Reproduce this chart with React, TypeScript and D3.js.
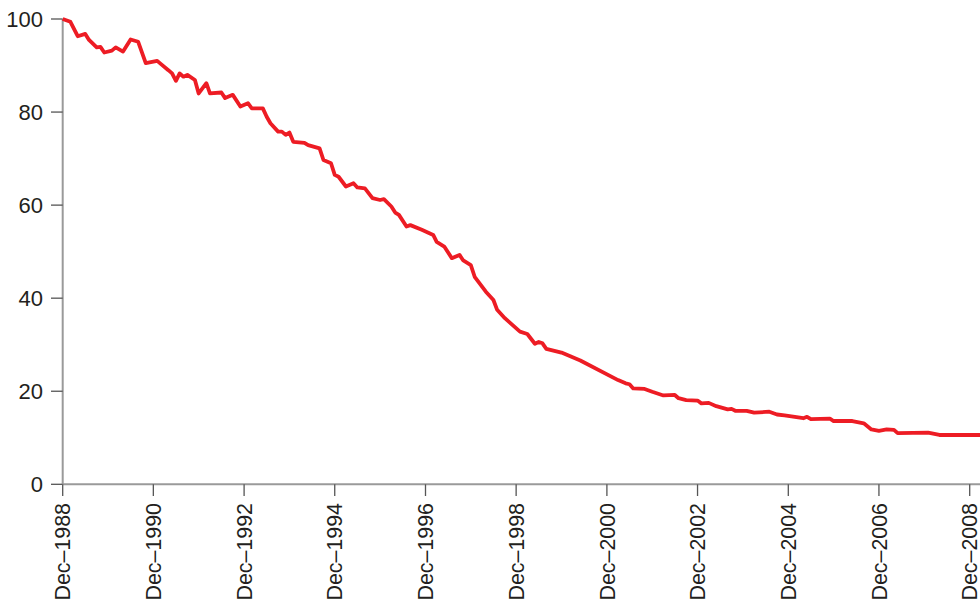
import React from "react";
import * as d3 from "d3";

const dates: string[] = [
  "1988-12","1989-02","1989-04","1989-06","1989-07","1989-09","1989-10","1989-11",
  "1990-01","1990-02","1990-04","1990-06","1990-08","1990-10",
  "1991-01","1991-02","1991-04","1991-05","1991-06","1991-07","1991-08","1991-09","1991-11","1991-12",
  "1992-02","1992-03","1992-06","1992-07","1992-09","1992-11",
  "1993-01","1993-02","1993-05","1993-06","1993-07","1993-09","1993-10","1993-11","1993-12",
  "1994-01","1994-04","1994-05","1994-08","1994-09","1994-11","1994-12",
  "1995-01","1995-03","1995-05","1995-06","1995-08","1995-10","1995-12",
  "1996-01","1996-03","1996-04","1996-05","1996-07","1996-08","1996-11",
  "1997-02","1997-03","1997-05","1997-07","1997-09","1997-10","1997-12",
  "1998-01","1998-04","1998-06","1998-07","1998-09",
  "1999-01","1999-03","1999-05","1999-06","1999-07","1999-08","1999-12",
  "2000-05",
  "2001-03","2001-05","2001-06","2001-07","2001-10","2001-12",
  "2002-03","2002-06","2002-07","2002-09","2002-12",
  "2003-01","2003-03","2003-05","2003-08","2003-09","2003-10",
  "2004-01","2004-03","2004-07","2004-09","2004-11",
  "2005-04","2005-05","2005-06","2005-11","2005-12",
  "2006-05","2006-08","2006-10","2006-12",
  "2007-02","2007-04","2007-05",
  "2008-01","2008-04",
  "2009-03",
];

const values: number[] = [
  100, 99.4, 96.3, 96.8, 95.5, 93.9, 94.0, 92.8,
  93.2, 93.9, 93.0, 95.6, 95.1, 90.5,
  91.0, 90.3, 89.0, 88.3, 86.7, 88.3, 87.6, 88.0, 86.9, 84.0,
  86.2, 84.0, 84.2, 83.0, 83.7, 81.2,
  81.9, 80.8, 80.8, 79.0, 77.6, 75.8, 75.8, 75.1, 75.6,
  73.6, 73.4, 72.9, 72.2, 69.7, 69.0, 66.5,
  66.1, 64.0, 64.7, 63.8, 63.6, 61.5, 61.1,
  61.3, 59.7, 58.4, 57.9, 55.4, 55.7, 54.7,
  53.6, 52.1, 51.1, 48.6, 49.3, 48.1, 47.1,
  44.6, 41.4, 39.6, 37.5, 35.7,
  32.8, 32.3, 30.2, 30.6, 30.3, 29.1, 28.3,
  26.6,
  22.4, 21.7, 21.5, 20.6, 20.5, 19.9,
  19.1, 19.2, 18.5, 18.1, 18.0,
  17.4, 17.5, 16.8, 16.1, 16.2, 15.8,
  15.8, 15.4, 15.6, 15.0, 14.8,
  14.2, 14.5, 14.0, 14.1, 13.6,
  13.6, 13.1, 11.8, 11.5,
  11.8, 11.7, 11.0,
  11.1, 10.6,
  10.6,
];

const yTicks: number[] = [0, 20, 40, 60, 80, 100];
const xTickDates: string[] = [
  "1988-12","1990-12","1992-12","1994-12","1996-12",
  "1998-12","2000-12","2002-12","2004-12","2006-12","2008-12",
];

const W = 980;
const H = 601;
const parse = d3.timeParse("%Y-%m");
const fmt = d3.timeFormat("%b\u2013%Y");

export default function App() {
  const data = dates.map((d, i) => ({ date: parse(d) as Date, value: values[i] }));
  const x = d3
    .scaleTime()
    .domain([parse("1988-12") as Date, parse("2008-12") as Date])
    .range([62.7, 969.7]);
  const y = d3.scaleLinear().domain([0, 100]).range([484.3, 19]);
  const line = d3
    .line<{ date: Date; value: number }>()
    .x((d) => x(d.date))
    .y((d) => y(d.value))
    .curve(d3.curveLinear);

  const axisColor = "#9a9a9a";
  const textColor = "#231f20";
  const font = "'Liberation Sans', Arial, Helvetica, sans-serif";

  return (
    <svg
      width={W}
      height={H}
      style={{ position: "absolute", left: 0, top: 0, background: "#fff" }}
    >
      <defs>
        <clipPath id="clip">
          <rect x={0} y={0} width={W} height={H} />
        </clipPath>
      </defs>
      {/* y axis */}
      <line x1={62.7} x2={62.7} y1={y(100)} y2={y(0)} stroke={axisColor} strokeWidth={2} />
      {yTicks.map((t) => (
        <g key={t}>
          <line x1={51} x2={62.7} y1={y(t)} y2={y(t)} stroke="#555" strokeWidth={1.3} />
          <text
            x={43}
            y={y(t)}
            dy="0.36em"
            textAnchor="end"
            fontFamily={font}
            fontSize={22}
            fill={textColor}
          >
            {t}
          </text>
        </g>
      ))}
      {/* x axis */}
      <line x1={62} x2={W} y1={y(0)} y2={y(0)} stroke={axisColor} strokeWidth={2} />
      {xTickDates.map((d) => {
        const px = x(parse(d) as Date);
        return (
          <g key={d}>
            <line x1={px} x2={px} y1={y(0)} y2={496} stroke="#555" strokeWidth={1.3} />
            <text
              transform={`translate(${px},503) rotate(-90)`}
              dy="0.36em"
              textAnchor="end"
              fontFamily={font}
              fontSize={21.4}
              fill={textColor}
            >
              {fmt(parse(d) as Date)}
            </text>
          </g>
        );
      })}
      <path
        d={line(data) || ""}
        fill="none"
        stroke="#ed1c24"
        strokeWidth={3.8}
        strokeLinejoin="round"
        clipPath="url(#clip)"
      />
    </svg>
  );
}
